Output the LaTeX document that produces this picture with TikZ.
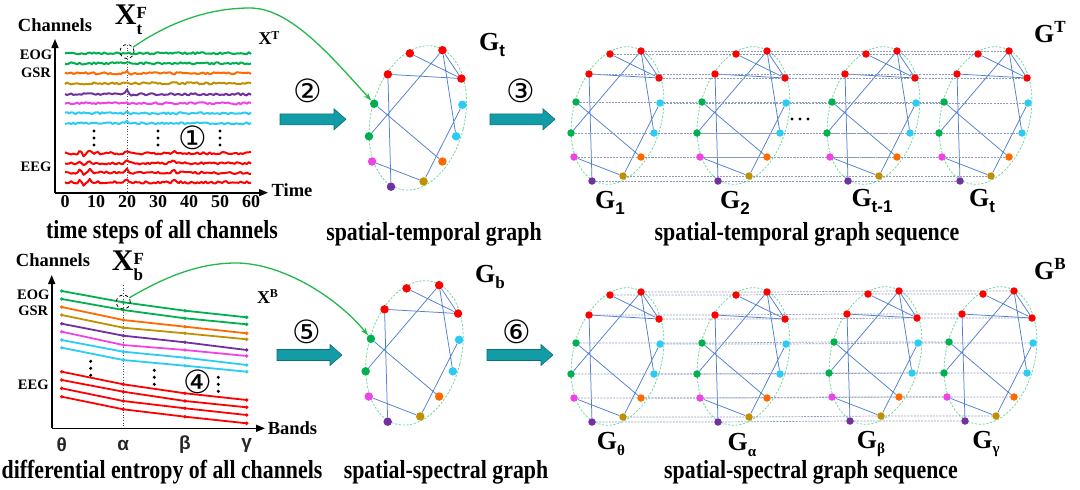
\documentclass[tikz,border=0pt]{standalone}
\usepackage{fontspec}
\setmainfont{Liberation Serif}
\newfontfamily\circfont{DejaVu Sans}
\newfontfamily\sansf{Liberation Sans}
\newfontfamily\capfont[FakeStretch=0.84]{Liberation Serif}
\usetikzlibrary{calc,arrows.meta}
\pgfdeclarelayer{bg}
\pgfsetlayers{bg,main}

\definecolor{cred}{HTML}{FF0000}
\definecolor{cgreen}{HTML}{00B050}
\definecolor{corange}{HTML}{FF6A00}
\definecolor{colive}{HTML}{BF9000}
\definecolor{cpurple}{HTML}{7030A0}
\definecolor{cmag}{HTML}{EE44E6}
\definecolor{ccyan}{HTML}{2BCBF5}
\definecolor{cedge}{HTML}{4F7FD1}
\definecolor{cell}{HTML}{6FD99A}
\definecolor{chline}{HTML}{8E9BBE}
\definecolor{cteal}{HTML}{139BA6}
\definecolor{ctealdk}{HTML}{0B6F78}
\definecolor{ccurve}{HTML}{22B84A}

\tikzset{
  gdot/.style={circle, inner sep=0pt, minimum size=#1, draw=none},
  gedge/.style={cedge, line width=0.75pt},
  gell/.style={cell, dash pattern=on 2.2pt off 1.6pt, line width=0.8pt},
  hline/.style={chline, dash pattern=on 2pt off 1.2pt, line width=0.7pt},
  sigline/.style={line width=2pt, line join=round},
  bline/.style={line width=1.8pt, line join=round},
  axisline/.style={line width=1.6pt, -{Triangle[length=9pt,width=7pt]}},
  gcurve/.style={ccurve, line width=1.3pt, -{Stealth[length=8pt,width=5.5pt]}},
  capt/.style={inner sep=0pt, font=\fontsize{26}{28}\selectfont\capfont\bfseries},
  glbl/.style={inner sep=0pt, font=\fontsize{26}{28}\selectfont\bfseries},
  chl/.style={inner sep=0pt, font=\fontsize{18.5}{20}\selectfont\bfseries},
  sml/.style={inner sep=0pt, font=\fontsize{14.5}{16}\selectfont\bfseries},
  ticklbl/.style={inner sep=0pt, font=\fontsize{18}{20}\selectfont\bfseries},
  gtick/.style={inner sep=0pt, font=\fontsize{19}{20}\selectfont\sansf\bfseries, text=black!85},
  circn/.style={inner sep=0pt, font=\fontsize{32}{34}\selectfont\circfont},
  xbig/.style={inner sep=0pt, font=\fontsize{30}{32}\selectfont\bfseries},
  xsm/.style={inner sep=0pt, font=\fontsize{18}{20}\selectfont\bfseries},
  dcirc/.style={circle, draw=black, dashed, line width=0.8pt, minimum size=14pt, inner sep=0pt},
  tarrow/.style={fill=cteal, draw=ctealdk, line width=0.6pt},
}

\newcommand\xfstack[1]{X\raisebox{-0.12em}{\fontsize{17}{16}\selectfont
  \begin{tabular}[c]{@{}l@{}}F\\#1\end{tabular}}}

\newcommand\gdraw[5]{%
\begin{scope}[shift={(#2,#3)}, scale=#4]
 \node[gdot=#5, fill=cred] (#1R1) at (18,-127) {};
 \node[gdot=#5, fill=cred] (#1R2) at (49,-130) {};
 \node[gdot=#5, fill=cred] (#1R3) at (-3,-107) {};
 \node[gdot=#5, fill=cred] (#1R4) at (67,-103) {};
 \node[gdot=#5, fill=cgreen] (#1G1) at (-16,-79) {};
 \node[gdot=#5, fill=ccyan] (#1C1) at (68,-78) {};
 \node[gdot=#5, fill=cgreen] (#1G2) at (-21,-48) {};
 \node[gdot=#5, fill=ccyan] (#1C2) at (62,-48) {};
 \node[gdot=#5, fill=cmag] (#1M) at (-18,-24) {};
 \node[gdot=#5, fill=corange] (#1O) at (49,-24) {};
 \node[gdot=#5, fill=colive] (#1L) at (31,-5) {};
 \node[gdot=#5, fill=cpurple] (#1P) at (0,0) {};
 \begin{pgfonlayer}{bg}
  \draw[gell, shift={(25.5,-65.5)}, rotate=-14] (0,0) ellipse [x radius=44.5, y radius=70];
  \draw[gedge] (#1R1) -- (#1R4) (#1R2) -- (#1R4) (#1R2) -- (#1G2) (#1R2) -- (#1C2)
     (#1R3) -- (#1R4) (#1R3) -- (#1P) (#1G1) -- (#1O) (#1C1) -- (#1L) (#1M) -- (#1L);
 \end{pgfonlayer}
\end{scope}}

\newcommand\tarrowdraw[3]{%
 \filldraw[tarrow] (#1,#3-5.5) -- (#2-12,#3-5.5) -- (#2-12,#3-10.5) -- (#2,#3)
   -- (#2-12,#3+10.5) -- (#2-12,#3+5.5) -- (#1,#3+5.5) -- cycle;}

\newcommand\vdotsdraw[2]{%
 \fill (#1,#2-7) circle (1.7); \fill (#1,#2) circle (1.7); \fill (#1,#2+7) circle (1.7);}

\begin{document}
\begin{tikzpicture}[x=1pt, y=-1pt]
\path[use as bounding box] (0,0) rectangle (1080,490);

% ================= TOP LEFT CHART =================
\coordinate (o1) at (55,192.7);
\coordinate (ya1) at (55,39);
\coordinate (xa1) at (268,192.7);
\draw[dotted, line width=0.7pt, black!70] (127,45) -- (127,192.7);
\foreach \yb/\col/\sd/\spk in {53.3/cgreen/11/0.5, 63.3/cgreen/12/0.5, 73.3/corange/13/1.5,
   83.3/colive/14/1, 94.3/cpurple/15/4, 103.3/cmag/16/1.5, 113.3/ccyan/17/2, 123.3/ccyan/18/1.5}{
  \pgfmathsetseed{\sd}
  \draw[sigline, \col] plot[variable=\t, domain=0:60, samples=91]
    ({65+3.1*\t}, {\yb+1.1*rand-\spk*max(0,1-abs(\t-20))+0.6*\spk*max(0,1-abs(\t-21))});
}
\foreach \yb/\sd in {153.3/21, 163.3/22, 172.7/23, 182.3/24}{
  \pgfmathsetseed{\sd}
  \draw[sigline, cred] plot[variable=\t, domain=0:60, samples=91]
    ({65+3.1*\t}, {\yb+1.2*rand-3*max(0,1-abs(\t-5))+2.5*max(0,1-abs(\t-6))-3*max(0,1-abs(\t-8))-3*max(0,1-abs(\t-20))-2.5*max(0,1-abs(\t-35))});
}
\draw[axisline] (o1) -- (ya1);
\draw[axisline] (o1) -- (xa1);
\node[dcirc] (xtf) at (127,51.5) {};
\vdotsdraw{94}{138}
\vdotsdraw{158}{138}
\vdotsdraw{220}{138}
\node[circn] (n1) at (193,138) {①};
\node[chl] (chan1) at (55,25) {Channels};
\node[xbig] (xtflbl) at (131,22) {\xfstack{t}};
\node[xsm] (xT) at (269,38) {X\raisebox{0.3em}{\fontsize{12}{12}\selectfont T}};
\node[sml] (eog1) at (36,55) {EOG};
\node[sml] (gsr1) at (36,72.7) {GSR};
\node[sml] (eeg1) at (36,166.7) {EEG};
\foreach \v [count=\i from 0] in {0,10,20,30,40,50,60}
  \node[ticklbl] (tk\i) at ({65+31*\i},202) {\v};
\node[chl] (time) at (292,190) {Time};
\node[capt] (cap1) at (162,232) {time steps of all channels};

% ================= BOTTOM LEFT CHART =================
\coordinate (o2) at (51.7,428.3);
\coordinate (ya2) at (51.7,275);
\coordinate (xa2) at (265,428.3);
\draw[dotted, line width=0.7pt, black!70] (123.3,285) -- (123.3,428.3);
\foreach \a/\b/\c/\d/\col in {
291/302.3/310.7/317.3/cgreen,
299/310/318.3/324.3/cgreen,
307/320/326.7/333.3/corange,
315/327.7/333.3/339.3/colive,
323.7/335.7/342.3/350/cpurple,
331.7/345/350/356/cmag,
340/351.7/357.7/365/ccyan,
347.7/360/365.7/371.7/ccyan,
371.7/384.3/393.3/400/cred,
380/391.7/401/407.3/cred,
388.3/401/408.3/415/cred,
396.7/409.3/416.7/423.3/cred}{
  \draw[bline, \col] (61.7,\a) -- (123.3,\b) -- (185,\c) -- (246.7,\d);
  \foreach \px/\py in {61.7/\a,123.3/\b,185/\c,246.7/\d} \fill[\col] (\px,\py) circle (1.9);
}
\draw[axisline] (o2) -- (ya2);
\draw[axisline] (o2) -- (xa2);
\node[dcirc] (xbf) at (123.3,302) {};
\vdotsdraw{90.7}{368.3}
\vdotsdraw{154.3}{377.3}
\vdotsdraw{218.3}{384.3}
\node[circn] (n4) at (198.3,382) {④};
\node[chl] (chan2) at (53,260) {Channels};
\node[xbig] (xbflbl) at (128,268) {\xfstack{b}};
\node[xsm] (xB) at (267.5,296.7) {X\raisebox{0.3em}{\fontsize{12}{12}\selectfont B}};
\node[sml] (eog2) at (33.3,295) {EOG};
\node[sml] (gsr2) at (33.3,311) {GSR};
\node[sml] (eeg2) at (33.3,385) {EEG};
\node[gtick] (gth) at (61.7,445) {θ};
\node[gtick] (gal) at (123.3,445) {α};
\node[gtick] (gbe) at (185,445) {β};
\node[gtick] (gga) at (246.7,445) {γ};
\node[chl] (bands) at (292.5,428.3) {Bands};
\node[capt] (cap4) at (162,472) {differential entropy of all channels};

% ================= STANDALONE GRAPHS =================
\gdraw{t}{391}{186.7}{1.05}{8.5pt}
\gdraw{b}{387.7}{421.7}{1.05}{8.5pt}
\node[glbl] (lGt) at (492,45) {G\raisebox{-0.22em}{\fontsize{17}{17}\selectfont\sansf t}};
\node[glbl] (lGb) at (490,277) {G\raisebox{-0.22em}{\fontsize{17}{17}\selectfont b}};
\node[capt] (cap2) at (434,234) {spatial-temporal graph};
\node[capt] (cap5) at (446,472) {spatial-spectral graph};

% green curves
\draw[gcurve] (xtf.35) .. controls (165,25) and (205,8) .. (250,8)
   .. controls (290,8) and (330,55) .. (tG1);
\draw[gcurve] (xbf.35) .. controls (160,280) and (195,263) .. (236,263)
   .. controls (280,263) and (335,295) .. (bG1);

% teal arrows and numbers
\tarrowdraw{280}{346}{119.3}
\tarrowdraw{490}{555}{119.3}
\tarrowdraw{277}{342}{355}
\tarrowdraw{487}{553}{355}
\node[circn] (n2) at (308.3,91) {②};
\node[circn] (n3) at (521,91) {③};
\node[circn] (n5) at (306.7,332) {⑤};
\node[circn] (n6) at (516.7,332) {⑥};

% ================= SEQUENCES =================
\gdraw{sa}{592}{181}{1}{7.5pt}
\gdraw{sb}{718}{181}{1}{7.5pt}
\gdraw{sc}{848}{181}{1}{7.5pt}
\gdraw{sd}{960}{181}{1}{7.5pt}
\gdraw{qa}{592}{422}{1}{7.5pt}
\gdraw{qb}{718}{422}{1}{7.5pt}
\gdraw{qc}{850}{421}{1}{7.5pt}
\gdraw{qd}{965}{421}{1}{7.5pt}
\begin{pgfonlayer}{bg}
\foreach \n in {R1,R2,R3,R4,G1,C1,G2,C2,M,O,L,P}{
  \draw[hline] (sa\n) -- (sb\n) -- (sc\n) -- (sd\n);
  \draw[hline] (qa\n) -- (qb\n) -- (qc\n) -- (qd\n);
}
\end{pgfonlayer}
\fill (792,119) circle (1.6); \fill (800,119) circle (1.6); \fill (808,119) circle (1.6);

\node[glbl] (lG1) at (610,203) {G\raisebox{-0.22em}{\fontsize{17}{17}\selectfont\sansf 1}};
\node[glbl] (lG2) at (735,203) {G\raisebox{-0.22em}{\fontsize{17}{17}\selectfont\sansf 2}};
\node[glbl] (lGt1) at (872,201) {G\raisebox{-0.22em}{\fontsize{17}{17}\selectfont\sansf t-1}};
\node[glbl] (lGt2) at (982,201) {G\raisebox{-0.22em}{\fontsize{17}{17}\selectfont\sansf t}};
\node[glbl] (lGT) at (1050,32) {G\raisebox{0.38em}{\fontsize{17}{17}\selectfont T}};
\node[capt] (cap3) at (807,234) {spatial-temporal graph sequence};

\node[glbl] (lGth) at (611,444) {G\raisebox{-0.22em}{\fontsize{15}{15}\selectfont θ}};
\node[glbl] (lGal) at (742,445) {G\raisebox{-0.22em}{\fontsize{15}{15}\selectfont α}};
\node[glbl] (lGbe) at (871,444) {G\raisebox{-0.22em}{\fontsize{15}{15}\selectfont β}};
\node[glbl] (lGga) at (986,444) {G\raisebox{-0.22em}{\fontsize{15}{15}\selectfont γ}};
\node[glbl] (lGB) at (1050,269) {G\raisebox{0.38em}{\fontsize{17}{17}\selectfont B}};
\node[capt] (cap6) at (811,472) {spatial-spectral graph sequence};
\end{tikzpicture}
\end{document}
